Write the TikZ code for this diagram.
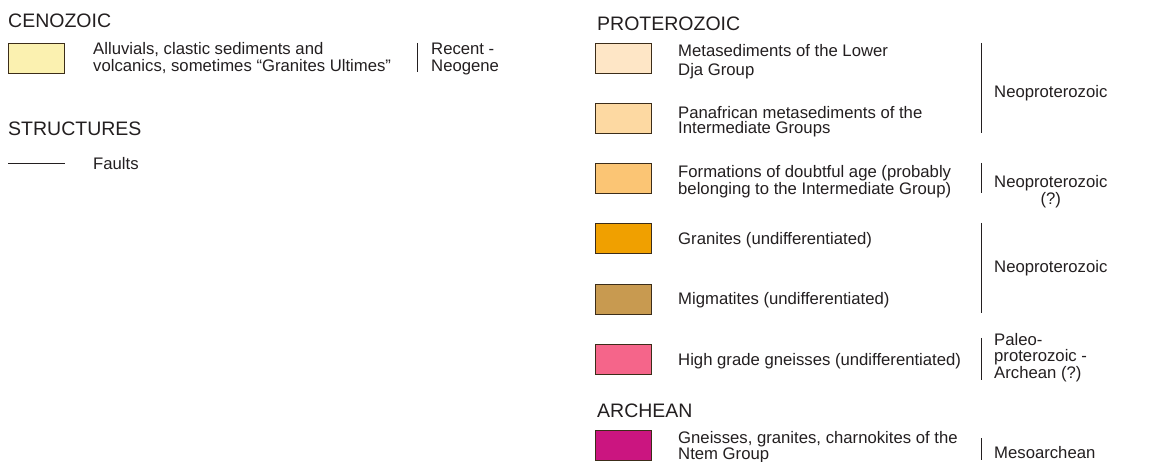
\documentclass[tikz,border=0pt]{standalone}
\usepackage{fontspec}
\setmainfont{Liberation Sans}
\definecolor{ink}{RGB}{35,31,32}
\definecolor{edge}{RGB}{60,45,25}
\definecolor{ceno}{RGB}{251,241,176}
\definecolor{pa}{RGB}{254,230,198}
\definecolor{pb}{RGB}{253,217,162}
\definecolor{pc}{RGB}{251,197,116}
\definecolor{pd}{RGB}{240,160,0}
\definecolor{pe}{RGB}{200,154,80}
\definecolor{pf}{RGB}{245,101,138}
\definecolor{ar}{RGB}{203,21,128}
\tikzset{
  unitbox/.style={draw=edge, line width=0.8pt, minimum width=56pt, minimum height=30pt, inner sep=0pt, outer sep=0pt, anchor=north west},
  lbl/.style={anchor=base west, align=left, inner sep=0pt, font=\fontsize{16.7}{17}\selectfont, text=ink},
  head/.style={anchor=base west, inner sep=0pt, font=\fontsize{19.5}{22}\selectfont, text=ink},
  bar/.style={draw=ink, line width=0.9pt}
}
\begin{document}
\begin{tikzpicture}[x=1pt,y=-1pt]
\useasboundingbox[fill=white] (0,0) rectangle (1162,462);
% left column
\node[head] (hceno) at (8,28) {CENOZOIC};
\node[unitbox, fill=ceno] (bceno) at (8,43) {};
\node[lbl] (tceno) at (93,72) {Alluvials, clastic sediments and\\volcanics, sometimes “Granites Ultimes”};
\draw[bar] (417,43) -- (417,72);
\node[lbl] (aceno) at (431,72) {Recent -\\Neogene};
\node[head] (hstruct) at (8,136) {STRUCTURES};
\coordinate (f1) at (8,163);
\coordinate (f2) at (65,163);
\draw[draw=ink, line width=0.9pt] (f1) -- (f2);
\node[lbl] (tfault) at (93,170) {Faults};
% right column
\node[head] (hprot) at (597,31) {PROTEROZOIC};
\node[unitbox, fill=pa] (b1) at (595,43) {};
\node[lbl, font=\fontsize{16.7}{19.5}\selectfont] (t1) at (678,76) {Metasediments of the Lower\\Dja Group};
\node[unitbox, fill=pb] (b2) at (595,103) {};
\node[lbl, font=\fontsize{16.7}{15.5}\selectfont] (t2) at (678,134) {Panafrican metasediments of the\\Intermediate Groups};
\draw[bar] (981,43) -- (981,133);
\node[lbl] (a1) at (994,98) {Neoproterozoic};
\node[unitbox, fill=pc] (b3) at (595,163) {};
\node[lbl] (t3) at (678,195) {Formations of doubtful age (probably\\belonging to the Intermediate Group)};
\draw[bar] (981,163) -- (981,193);
\node[lbl, align=center] (a2) at (994,205) {Neoproterozoic\\(?)};
\node[unitbox, fill=pd] (b4) at (595,223) {};
\node[lbl] (t4) at (678,245) {Granites (undifferentiated)};
\node[unitbox, fill=pe] (b5) at (595,284) {};
\node[lbl] (t5) at (678,305) {Migmatites (undifferentiated)};
\draw[bar] (981,223) -- (981,313);
\node[lbl] (a3) at (994,273) {Neoproterozoic};
\node[unitbox, fill=pf] (b6) at (595,344) {};
\node[lbl] (t6) at (678,365) {High grade gneisses (undifferentiated)};
\draw[bar] (981,338) -- (981,380);
\node[lbl, font=\fontsize{16.7}{15.5}\selectfont] (a4) at (994,378) {Paleo-\\proterozoic -\\Archean (?)};
\node[head] (harch) at (597,417) {ARCHEAN};
\node[unitbox, fill=ar] (b7) at (595,430) {};
\node[lbl, font=\fontsize{16.7}{16}\selectfont] (t7) at (678,459) {Gneisses, granites, charnokites of the\\Ntem Group};
\draw[bar] (981,438) -- (981,460);
\node[lbl] (a5) at (994,458) {Mesoarchean};
\end{tikzpicture}
\end{document}
